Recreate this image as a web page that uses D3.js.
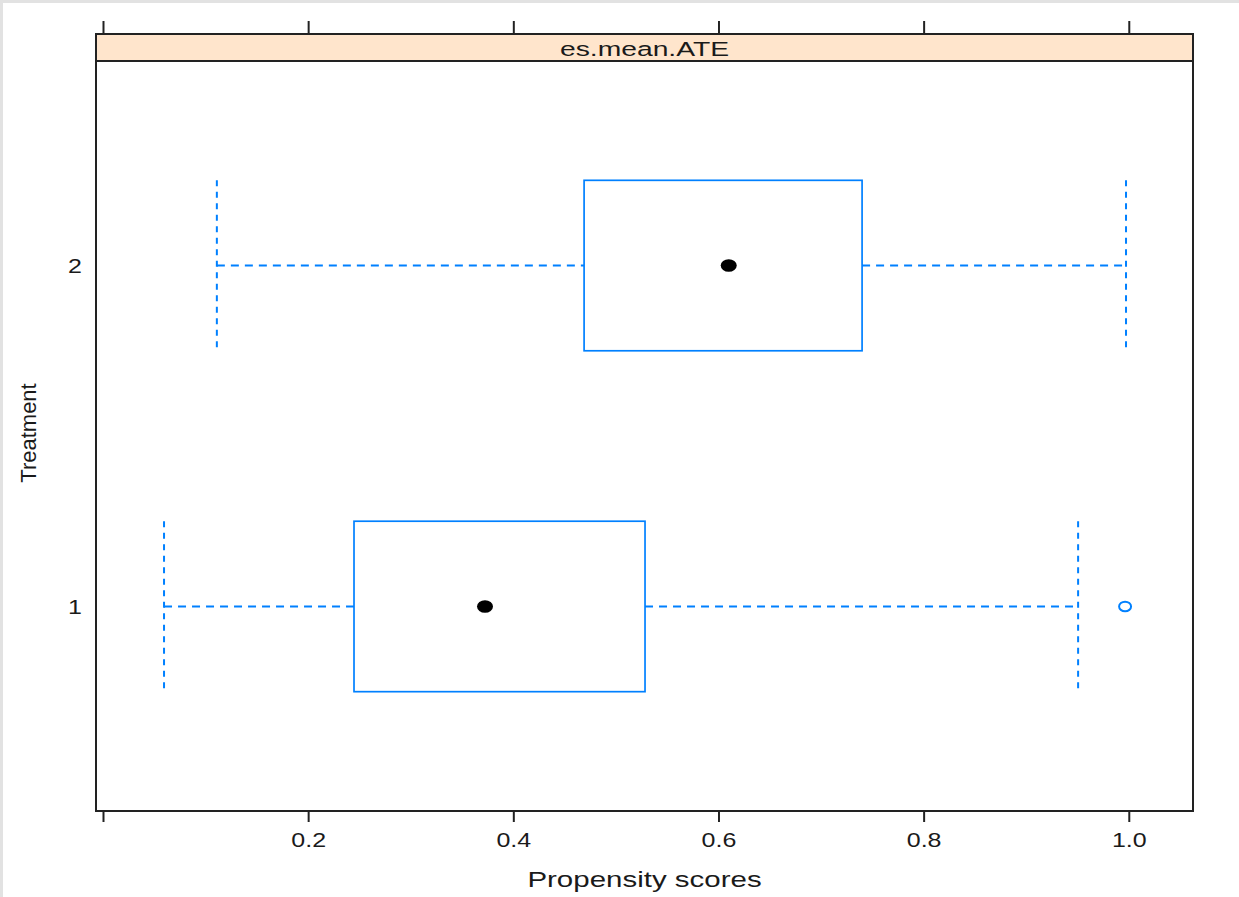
<!DOCTYPE html>
<html>
<head>
<meta charset="utf-8">
<script src="https://cdn.jsdelivr.net/npm/d3@7"></script>
<style>
  body { margin: 0; background: #fff; }
  text { font-family: "Liberation Sans", Arial, sans-serif; fill: #1a1a1a; }
</style>
</head>
<body>
<div id="chart"></div>
<script>
// box-and-whisker summary per treatment group
var groups = ["1", "2"];
var lowerWhisker = [0.0595, 0.111];
var q1 = [0.2447, 0.469];
var median = [0.3724, 0.610];
var q3 = [0.5284, 0.740];
var upperWhisker = [0.9506, 0.9973];
var outliers = [[0.9964], []];

var xTicks = [0, 0.2, 0.4, 0.6, 0.8, 1.0];
var xTickLabels = ["", "0.2", "0.4", "0.6", "0.8", "1.0"];
var stripLabel = "es.mean.ATE";

var W = 1239, H = 897;
var panel = { left: 96, right: 1193, top: 61, bottom: 811 };
var stripTop = 34;
var blue = "#0080ff";
var sx = 1.25; // text in the picture is a bit wide

var svg = d3.select("#chart")
    .append("svg")
    .attr("width", W)
    .attr("height", H);

svg.append("rect").attr("width", W).attr("height", H).attr("fill", "#e2e2e2");
svg.append("rect").attr("x", 3).attr("y", 3).attr("width", W - 3).attr("height", H - 3).attr("fill", "#fff");

var x = d3.scaleLinear().domain([-0.00682, 1.0626]).range([panel.left, panel.right]);
var y = d3.scaleLinear().domain([0.4, 2.6]).range([panel.bottom, panel.top]);
var half = 0.25; // half box height in y units

// strip
svg.append("rect")
    .attr("x", panel.left).attr("y", stripTop)
    .attr("width", panel.right - panel.left).attr("height", panel.top - stripTop)
    .attr("fill", "#ffe5cc").attr("stroke", "#222").attr("stroke-width", 2);
svg.append("text")
    .attr("transform", "translate(" + ((panel.left + panel.right) / 2) + ",56) scale(1.38,1)")
    .attr("text-anchor", "middle")
    .attr("font-size", 20.5)
    .text(stripLabel);

// axes
var bottomAxis = d3.axisBottom(x)
    .tickValues(xTicks)
    .tickFormat(function (d, i) { return xTickLabels[i]; })
    .tickSize(11).tickSizeOuter(0);
var gb = svg.append("g").attr("transform", "translate(0," + panel.bottom + ")").call(bottomAxis);
gb.select(".domain").remove();
gb.selectAll("line").attr("stroke", "#222").attr("stroke-width", 2);
gb.selectAll("text")
    .attr("y", 36).attr("dy", null)
    .attr("transform", "scale(" + sx + ",1)")
    .attr("font-size", 20)
    .attr("font-family", "Liberation Sans, Arial, sans-serif")
    .attr("fill", "#1a1a1a");

var topAxis = d3.axisTop(x).tickValues(xTicks).tickFormat("").tickSize(13).tickSizeOuter(0);
var gt = svg.append("g").attr("transform", "translate(0," + stripTop + ")").call(topAxis);
gt.select(".domain").remove();
gt.selectAll("line").attr("stroke", "#222").attr("stroke-width", 2);

// y labels
svg.selectAll(".ylab")
    .data(groups)
    .enter()
    .append("text")
    .attr("class", "ylab")
    .attr("transform", function (d) { return "translate(82," + (y(+d) + 7.5) + ") scale(" + sx + ",1)"; })
    .attr("text-anchor", "end")
    .attr("font-size", 20)
    .text(function (d) { return d; });

// whiskers
groups.forEach(function (g, i) {
    var cy = y(+g);
    var segs = [[lowerWhisker[i], q1[i]], [q3[i], upperWhisker[i]]];
    segs.forEach(function (s) {
        svg.append("line")
            .attr("x1", x(s[0])).attr("x2", x(s[1]))
            .attr("y1", cy).attr("y2", cy)
            .attr("stroke", blue).attr("stroke-width", 2)
            .attr("stroke-dasharray", "8,6");
    });
    [lowerWhisker[i], upperWhisker[i]].forEach(function (v) {
        svg.append("line")
            .attr("x1", x(v)).attr("x2", x(v))
            .attr("y1", y(+g + half)).attr("y2", y(+g - half))
            .attr("stroke", blue).attr("stroke-width", 2)
            .attr("stroke-dasharray", "6,5.5");
    });
});

// boxes
svg.selectAll(".box")
    .data(groups)
    .enter()
    .append("rect")
    .attr("class", "box")
    .attr("x", function (d, i) { return x(q1[i]); })
    .attr("width", function (d, i) { return x(q3[i]) - x(q1[i]); })
    .attr("y", function (d) { return y(+d + half); })
    .attr("height", function (d) { return y(+d - half) - y(+d + half); })
    .attr("fill", "none")
    .attr("stroke", blue)
    .attr("stroke-width", 1.7);

// medians
svg.selectAll(".med")
    .data(groups)
    .enter()
    .append("ellipse")
    .attr("cx", function (d, i) { return x(median[i]); })
    .attr("cy", function (d) { return y(+d); })
    .attr("rx", 8).attr("ry", 6.3)
    .attr("fill", "#000");

// outliers
groups.forEach(function (g, i) {
    svg.selectAll(null)
        .data(outliers[i])
        .enter()
        .append("ellipse")
        .attr("cx", function (d) { return x(d); })
        .attr("cy", y(+g))
        .attr("rx", 6).attr("ry", 4.8)
        .attr("fill", "none")
        .attr("stroke", blue)
        .attr("stroke-width", 2);
});

// panel border
svg.append("rect")
    .attr("x", panel.left).attr("y", stripTop)
    .attr("width", panel.right - panel.left).attr("height", panel.bottom - stripTop)
    .attr("fill", "none").attr("stroke", "#222").attr("stroke-width", 2);

// axis titles
svg.append("text")
    .attr("transform", "translate(" + ((panel.left + panel.right) / 2) + ",887) scale(1.31,1)")
    .attr("text-anchor", "middle")
    .attr("font-size", 22.5)
    .text("Propensity scores");

svg.append("text")
    .attr("transform", "translate(36,433) rotate(-90)")
    .attr("text-anchor", "middle")
    .attr("font-size", 22)
    .text("Treatment");
</script>
</body>
</html>
